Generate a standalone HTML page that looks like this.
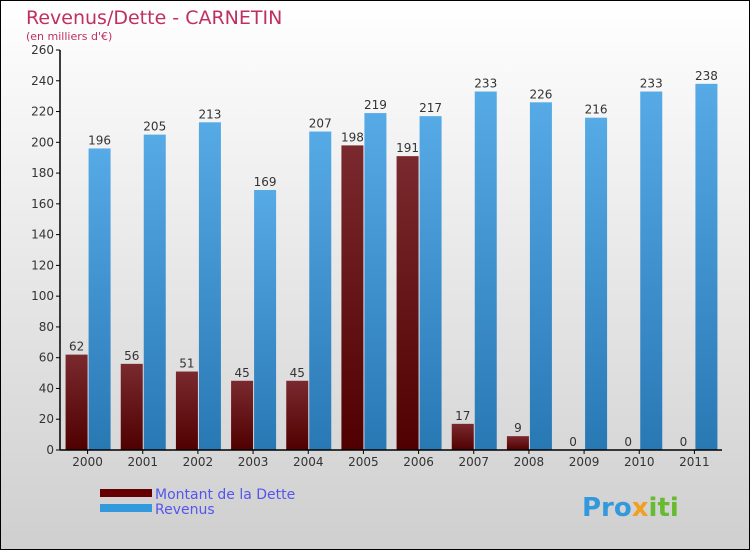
<!DOCTYPE html>
<html><head><meta charset="utf-8"><style>
body{margin:0;width:750px;height:550px;overflow:hidden;font-family:"DejaVu Sans","Liberation Sans",sans-serif}
</style></head><body>
<svg width="750" height="550" xmlns="http://www.w3.org/2000/svg">
<defs>
<linearGradient id="bg" x1="0" y1="0" x2="0" y2="1"><stop offset="0" stop-color="#ffffff"/><stop offset="1" stop-color="#cfcfcf"/></linearGradient>
<linearGradient id="gd" x1="0" y1="0" x2="0" y2="1"><stop offset="0" stop-color="#7a2a2e"/><stop offset="1" stop-color="#500000"/></linearGradient>
<linearGradient id="gr" x1="0" y1="0" x2="0" y2="1"><stop offset="0" stop-color="#56aae6"/><stop offset="1" stop-color="#2878b4"/></linearGradient>
</defs>
<rect x="0.5" y="0.5" width="749" height="549" fill="url(#bg)" stroke="#000"/>
<text x="26" y="24" font-size="19" fill="#c0305e">Revenus/Dette - CARNETIN</text>
<text x="26" y="40" font-size="11" fill="#c0305e">(en milliers d'€)</text>
<g id="plot"></g>
<rect x="100" y="489" width="52" height="8" fill="#650000"/>
<rect x="100" y="504" width="52" height="8" fill="#3399dd"/>
<text x="155" y="499" font-size="14" fill="#5555ee">Montant de la Dette</text>
<text x="155" y="514" font-size="14" fill="#5555ee">Revenus</text>
<text x="582" y="516" font-size="26" font-weight="bold" fill="#3399dd">Pro<tspan fill="#f0a020">x</tspan><tspan fill="#66bb33">iti</tspan></text>
</svg>
<script>
const years=["2000","2001","2002","2003","2004","2005","2006","2007","2008","2009","2010","2011"];
const dette=[62,56,51,45,45,198,191,17,9,0,0,0];
const revenus=[196,205,213,169,207,219,217,233,226,216,233,238];
const ticks=[0,20,40,60,80,100,120,140,160,180,200,220,240,260];
const NS="http://www.w3.org/2000/svg";
const g=document.getElementById('plot');
const x0=60,x1=722,y0=450,y1=50,max=260;
const step=(x1-x0)/years.length;
const y=v=>y0-(v/max)*(y0-y1);
const cx=i=>x0+step*(i+0.5);
function mk(t,a){const e=document.createElementNS(NS,t);for(const k in a)e.setAttribute(k,a[k]);g.appendChild(e);return e;}
ticks.forEach(t=>{
 const l=mk('line',{x1:x0-4,x2:x0,y1:y(t),y2:y(t),stroke:'#000'});
 
 
 const tx=mk('text',{x:x0-6,y:y(t)+4,'font-size':12,'text-anchor':'end',fill:'#333'});
 tx.textContent=t;
 
 
});
years.forEach((yr,i)=>{
 const c=cx(i);
 const b1=mk('rect',{x:c-22,y:y(dette[i]),width:22,height:y0-y(dette[i]),fill:'url(#gd)'});
 
 
 const b2=mk('rect',{x:c+1,y:y(revenus[i]),width:22,height:y0-y(revenus[i]),fill:'url(#gr)'});
 
 
 const v1=mk('text',{x:c-11,y:y(dette[i])-4,'font-size':12,'text-anchor':'middle',fill:'#333'});
 v1.textContent=dette[i];
 
 
 const v2=mk('text',{x:c+12,y:y(revenus[i])-4,'font-size':12,'text-anchor':'middle',fill:'#333'});
 v2.textContent=revenus[i];
 
 
 const tk=mk('line',{x1:c,x2:c,y1:y0,y2:y0+4,stroke:'#000'});
 
 
 const xl=mk('text',{x:c,y:466,'font-size':12,'text-anchor':'middle',fill:'#333'});
 xl.textContent=yr;
 
 
});
const ya=mk('line',{x1:x0,x2:x0,y1:y1,y2:y0,stroke:'#000','stroke-width':1.5});


const xa=mk('line',{x1:x0,x2:x1,y1:y0,y2:y0,stroke:'#000','stroke-width':1.5});


</script>
</body></html>
